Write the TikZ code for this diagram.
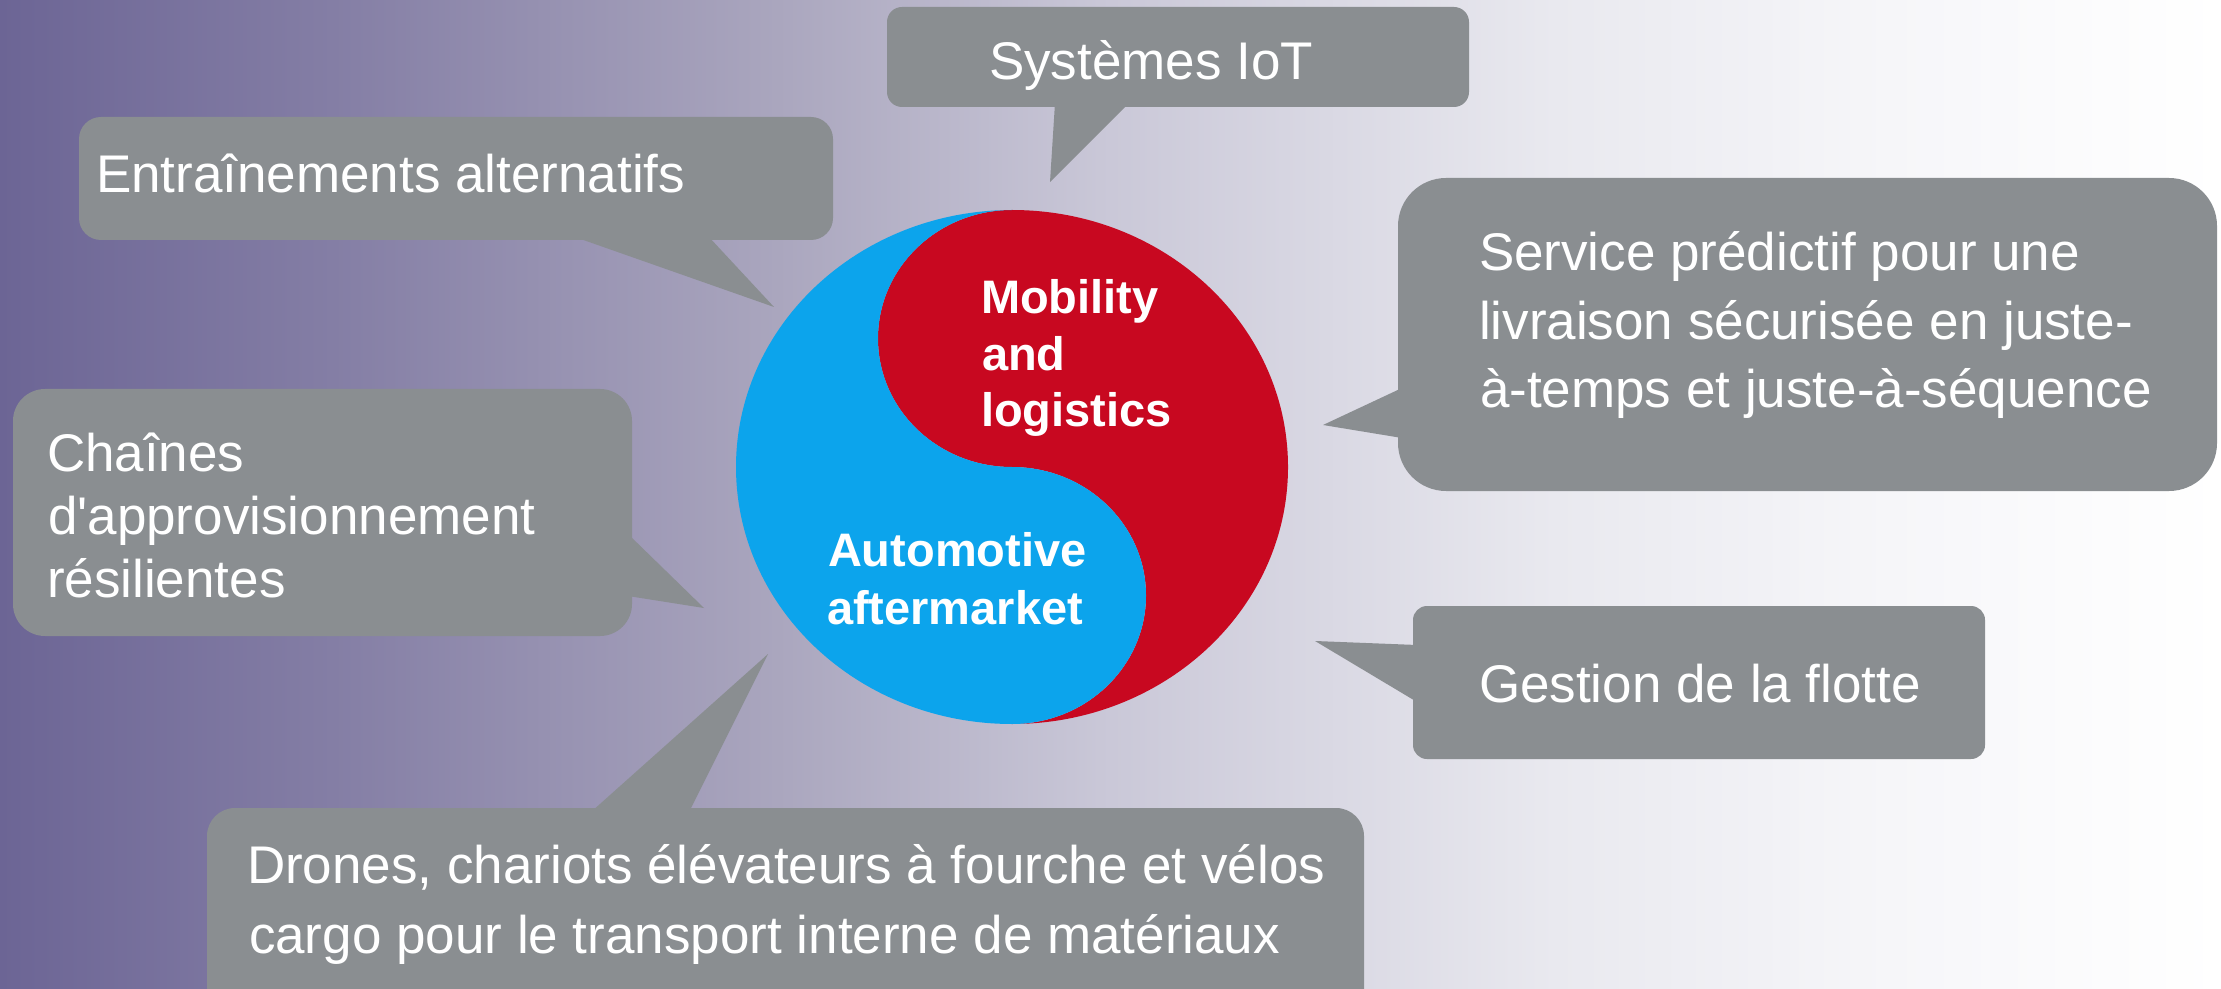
\documentclass[tikz,border=0pt]{standalone}
\usepackage{fontspec}
\setmainfont{Liberation Sans}[Ligatures=TeXOff]
\definecolor{bubble}{RGB}{138,142,145}
\definecolor{ymred}{RGB}{200,8,32}
\definecolor{ymblue}{RGB}{12,164,236}
\definecolor{bga}{RGB}{108,101,149}
\definecolor{bgb}{RGB}{132,126,165}
\definecolor{bgc}{RGB}{170,166,190}
\definecolor{bgd}{RGB}{202,200,216}
\definecolor{bge}{RGB}{233,233,239}
\definecolor{bgf}{RGB}{246,246,249}
\definecolor{bgg}{RGB}{255,255,255}
\pgfdeclarehorizontalshading{bgshade}{100bp}{color(0bp)=(bga); color(25bp)=(bga); color(32.5bp)=(bgb); color(42.5bp)=(bgc); color(50bp)=(bgd); color(60bp)=(bge); color(67.5bp)=(bgf); color(75bp)=(bgg); color(100bp)=(bgg)}
\tikzset{
  bubblefill/.style={fill=bubble},
  txt/.style={inner sep=0pt, outer sep=0pt, text=white, anchor=base west, font=\fontsize{26.5}{32}\selectfont},
  boldtxt/.style={inner sep=0pt, outer sep=0pt, text=white, anchor=base west, font=\fontsize{23.5}{28}\selectfont\bfseries}
}
\begin{document}
\begin{tikzpicture}[x=0.5pt,y=-0.5pt]
\useasboundingbox (0,0) rectangle (2221,989);
\clip (0,0) rectangle (2221,989);
\shade[shading=bgshade] (0,0) rectangle (2221,989);

% bubbles
% Systemes IoT
\fill[bubblefill, rounded corners=7.5pt] (887,7) rectangle (1469,107);
\fill[bubblefill] (1055,103) -- (1050,182) -- (1129,103) -- cycle;
% Entrainements
\fill[bubblefill, rounded corners=11pt] (79,117) rectangle (833,240);
\fill[bubblefill] (572,236) -- (774,307) -- (708,236) -- cycle;
% Chaines
\fill[bubblefill, rounded corners=16pt] (13,389) rectangle (632,636);
\fill[bubblefill] (628,534) -- (704,608) -- (628,596) -- cycle;
% Drones
\fill[bubblefill, rounded corners=14pt] (207,808) rectangle (1364,1060);
\fill[bubblefill] (591,812) -- (768,654) -- (689,812) -- cycle;
% Service
\fill[bubblefill, rounded corners=24pt] (1398,178) rectangle (2217,491);
\fill[bubblefill] (1402,388) -- (1323,425) -- (1402,438) -- cycle;
% Gestion
\fill[bubblefill, rounded corners=7pt] (1413,606) rectangle (1985,759);
\fill[bubblefill] (1417,645) -- (1315,641) -- (1417,702) -- cycle;

% yin-yang circle
\fill[ymred] (1012,210) arc[start angle=-90,end angle=90,x radius=276,y radius=257]
  arc[start angle=90,end angle=-90,x radius=134,y radius=128.5]
  arc[start angle=90,end angle=270,x radius=134,y radius=128.5] -- cycle;
\fill[ymblue] (1012,210) arc[start angle=270,end angle=90,x radius=276,y radius=257]
  arc[start angle=90,end angle=-90,x radius=134,y radius=128.5]
  arc[start angle=90,end angle=270,x radius=134,y radius=128.5] -- cycle;

% texts
\node[txt] (iot) at (989,80) {Systèmes IoT};
\node[txt] (ent) at (96,193) {Entraînements alternatifs};
\node[txt] (ch1) at (47,471) {Chaînes};
\node[txt] (ch2) at (48,534) {d'approvisionnement};
\node[txt] (ch3) at (47,597) {résilientes};
\node[txt] (sv1) at (1479,271) {Service prédictif pour une};
\node[txt] (sv2) at (1479,340) {livraison sécurisée en juste-};
\node[txt] (sv3) at (1480,408) {à-temps et juste-à-séquence};
\node[txt] (ges) at (1479,702) {Gestion de la flotte};
\node[txt] (dr1) at (247,883) {Drones, chariots élévateurs à fourche et vélos};
\node[txt] (dr2) at (249,953) {cargo pour le transport interne de matériaux};
\node[boldtxt] (mo1) at (981,314) {Mobility};
\node[boldtxt] (mo2) at (982,371) {and};
\node[boldtxt] (mo3) at (981,427) {logistics};
\node[boldtxt] (au1) at (828,566) {Automotive};
\node[boldtxt] (au2) at (827,624) {aftermarket};
\end{tikzpicture}
\end{document}
